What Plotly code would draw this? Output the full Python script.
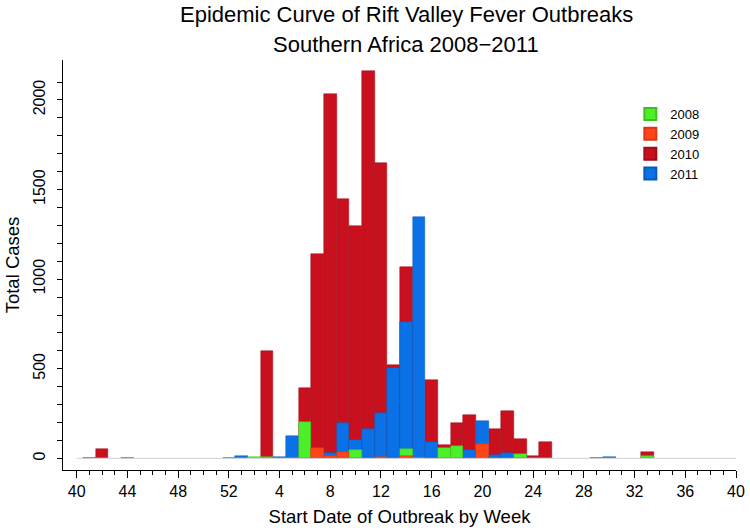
import plotly.graph_objects as go

# Week labels: week 40 through week 52, then weeks 1..40
weeks = list(range(40, 53)) + list(range(1, 41))

# Cases per week position (53 positions)
cases_2008 = [0]*53
cases_2009 = [0]*53
cases_2010 = [0]*53
cases_2011 = [0]*53

vals_2010 = {1: 3, 2: 50, 4: 3, 15: 600, 18: 393, 19: 1138, 20: 2033, 21: 1447, 22: 1298,
             23: 2160, 24: 1646, 25: 519, 26: 1069, 28: 436, 29: 76, 30: 195, 31: 242,
             33: 165, 34: 264, 35: 106, 36: 15, 37: 91, 41: 3, 45: 37}
vals_2011 = {12: 3, 13: 15, 16: 5, 17: 125, 20: 28, 21: 195, 22: 102, 23: 163, 24: 255,
             25: 502, 26: 762, 27: 1345, 28: 92, 31: 49, 32: 206, 33: 17, 34: 28, 42: 5}
vals_2008 = {14: 8, 15: 8, 18: 203, 22: 46, 26: 52, 29: 56, 30: 71, 35: 24, 45: 13}
vals_2009 = {19: 56, 20: 12, 21: 37, 24: 5, 26: 15, 32: 80}

for k, v in vals_2010.items():
    cases_2010[k] = v
for k, v in vals_2011.items():
    cases_2011[k] = v
for k, v in vals_2008.items():
    cases_2008[k] = v
for k, v in vals_2009.items():
    cases_2009[k] = v

positions = list(range(len(weeks)))
tick_pos = positions[::4]
tick_text = [str(weeks[i]) for i in tick_pos]

colors = {"2008": "#4CF02A", "2009": "#FF4419", "2010": "#C8101E", "2011": "#0A72E6"}
edges = {"2008": "#3CC020", "2009": "#D83812", "2010": "#A00C18", "2011": "#0859B8"}
series = {"2008": cases_2008, "2009": cases_2009, "2010": cases_2010, "2011": cases_2011}
rank = {"2008": 1, "2009": 2, "2010": 3, "2011": 4}
draw_order = ["2010", "2011", "2008", "2009"]

FONT = "Liberation Sans, Arial, Helvetica, sans-serif"

fig = go.Figure()

# zero baseline
fig.add_trace(go.Scatter(x=[positions[0], positions[-1]], y=[0, 0], mode="lines",
                         line=dict(color="#D0D0D0", width=1), showlegend=False,
                         hoverinfo="skip"))

for y in draw_order:
    fig.add_trace(go.Bar(
        x=positions, y=[v if v > 0 else None for v in series[y]], name=y, width=1.0,
        marker=dict(color=colors[y], line=dict(color=edges[y], width=0.5)),
        legendrank=rank[y],
    ))

fig.update_layout(
    width=750, height=532,
    barmode="overlay", bargap=0,
    plot_bgcolor="white", paper_bgcolor="white",
    margin=dict(l=63, r=14, t=60, b=62, autoexpand=False),
    font=dict(family=FONT, color="black"),
    legend=dict(x=0.843, y=0.905, xanchor="left", yanchor="top",
                font=dict(size=13, family=FONT), bgcolor="rgba(0,0,0,0)",
                tracegroupgap=0, itemsizing="constant"),
    showlegend=True,
    annotations=[
        dict(text="Epidemic Curve of Rift Valley Fever Outbreaks", x=0.51, y=1.1098,
             xref="paper", yref="paper", xanchor="center", yanchor="middle",
             showarrow=False, font=dict(size=22, family=FONT, color="black")),
        dict(text="Southern Africa 2008\u22122011", x=0.51, y=1.039,
             xref="paper", yref="paper", xanchor="center", yanchor="middle",
             showarrow=False, font=dict(size=22, family=FONT, color="black")),
    ],
)

fig.update_xaxes(
    range=[-1.08, 52.0], showgrid=False, zeroline=False, automargin=False,
    showline=True, linecolor="black", linewidth=1,
    tickmode="array", tickvals=tick_pos, ticktext=tick_text,
    ticks="outside", ticklen=7, tickwidth=1, tickcolor="black",
    minor=dict(tickmode="array", tickvals=[p for p in positions if p % 4 != 0],
               ticks="outside", ticklen=4, tickwidth=1, tickcolor="black"),
    tickfont=dict(size=16, family=FONT, color="black"),
    title=dict(text="Start Date of Outbreak by Week", font=dict(size=18.5, family=FONT), standoff=10),
)

fig.update_yaxes(
    range=[-65, 2223], showgrid=False, zeroline=False, automargin=False,
    showline=True, linecolor="black", linewidth=1,
    tickmode="array", tickvals=[0, 500, 1000, 1500, 2000],
    ticks="outside", ticklen=5, tickwidth=1, tickcolor="black",
    minor=dict(tickmode="array", tickvals=[v for v in range(100, 2200, 100) if v % 500 != 0],
               ticks="outside", ticklen=5, tickwidth=1, tickcolor="black"),
    tickangle=-90, ticklabelstandoff=6,
    tickfont=dict(size=16, family=FONT, color="black"),
    title=dict(text="Total Cases", font=dict(size=18.5, family=FONT), standoff=6),
)

# remove the default 8px page margin so the figure fills the window exactly
fig.write_html("out.html", config={"displayModeBar": False},
               post_script="document.body.style.margin='0';")
